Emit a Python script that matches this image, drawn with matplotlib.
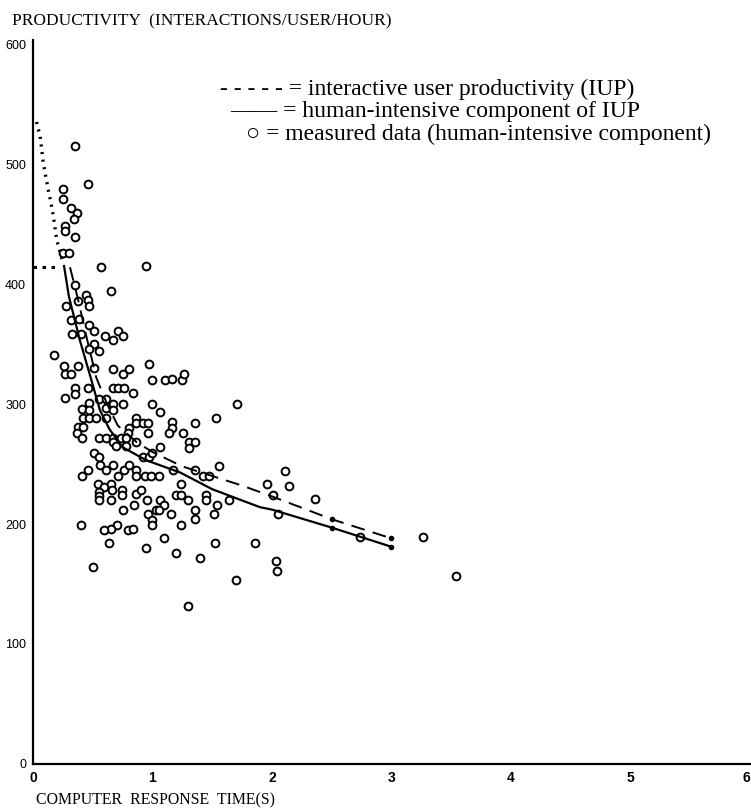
import matplotlib
matplotlib.use('Agg')
import matplotlib.pyplot as plt

meas_x = [0.351, 0.463, 0.254, 0.248, 0.315, 0.366, 0.346, 0.27, 0.27, 0.351,
          0.248, 0.304, 0.569, 0.946, 0.653, 0.351, 0.444, 0.458, 0.466, 0.276,
          0.374, 0.318, 0.388, 0.471, 0.326, 0.402, 0.513, 0.513, 0.555, 0.471,
          0.605, 0.667, 0.709, 0.75, 0.178, 0.257, 0.27, 0.318, 0.374, 0.513,
          0.667, 0.756, 0.806, 0.968, 1.0, 1.107, 1.161, 1.247, 1.261, 0.354,
          0.354, 0.458, 0.667, 0.709, 0.764, 0.834, 0.27, 0.41, 0.471, 0.555,
          0.611, 0.667, 0.75, 0.611, 0.667, 0.471, 1.0, 1.065, 0.416, 0.471,
          0.527, 0.611, 0.374, 0.416, 0.366, 0.407, 0.862, 0.862, 0.918, 0.96,
          1.163, 1.163, 1.358, 0.806, 0.792, 0.96, 1.141, 1.258, 1.53, 0.555,
          0.611, 0.667, 0.736, 0.778, 0.667, 0.695, 0.778, 0.862, 1.063, 1.308,
          1.308, 1.358, 0.513, 0.555, 0.923, 0.973, 1.0, 1.358, 1.425, 1.475,
          0.41, 0.463, 0.561, 0.611, 0.667, 0.709, 0.764, 0.806, 0.862, 0.862,
          0.94, 0.987, 1.057, 1.169, 0.541, 0.597, 0.653, 0.555, 0.661, 0.745,
          0.555, 0.745, 0.862, 0.904, 0.555, 0.653, 0.951, 1.063, 1.197, 1.238,
          1.238, 1.294, 1.448, 1.448, 0.75, 0.848, 1.099, 1.029, 1.057, 0.96,
          1.155, 1.358, 1.517, 1.0, 1.358, 0.402, 0.7, 0.653, 0.597, 0.792,
          0.84, 1.0, 1.238, 0.639, 1.099, 0.946, 1.197, 1.397, 1.526, 0.5,
          1.3, 1.705, 1.559, 1.64, 1.537, 1.86, 1.7, 2.03, 2.04, 1.96,
          2.11, 2.14, 2.006, 2.05, 2.36, 2.74, 3.26, 3.54]
meas_y = [515, 483, 479, 471, 463, 459, 454, 448, 444, 439,
          426, 426, 414, 415, 394, 399, 391, 387, 382, 382,
          386, 370, 371, 366, 358, 358, 361, 350, 344, 346,
          357, 353, 361, 357, 341, 332, 325, 325, 332, 330,
          329, 325, 329, 333, 320, 320, 321, 320, 325, 313,
          308, 313, 313, 313, 313, 309, 305, 296, 301, 304,
          304, 300, 300, 297, 295, 295, 300, 293, 288, 288,
          288, 288, 281, 281, 276, 272, 288, 284, 284, 284,
          285, 280, 284, 280, 276, 276, 276, 276, 288, 272,
          272, 272, 272, 272, 268, 265, 265, 268, 264, 268,
          263, 268, 259, 256, 256, 256, 259, 245, 240, 240,
          240, 245, 249, 245, 249, 240, 245, 249, 245, 240,
          240, 240, 240, 245, 233, 231, 233, 227, 228, 228,
          223, 224, 225, 228, 220, 220, 220, 220, 224, 224,
          233, 220, 224, 220, 212, 216, 216, 212, 212, 208,
          208, 212, 208, 203, 204, 199, 199, 196, 195, 195,
          196, 199, 199, 184, 188, 180, 176, 172, 184, 164,
          132, 300, 248, 220, 216, 184, 153, 169, 161, 233,
          244, 232, 224, 208, 221, 189, 189, 157]

# interactive user productivity (IUP), dashed
iup_x = [0.31, 0.38, 0.45, 0.53, 0.62, 0.71, 0.87, 1.0, 1.25, 1.5, 1.75, 2.0, 2.5, 3.0]
iup_y = [414, 386, 355, 322, 300, 282, 268, 260, 248, 240, 232, 223, 204, 188]

# dotted extension of IUP towards zero response time
iup_ext_x = [0.03, 0.06, 0.085, 0.106, 0.127, 0.148, 0.17, 0.184, 0.2, 0.226, 0.25]
iup_ext_y = [535, 523, 502, 490, 479, 469, 457, 447, 436, 427, 418]

# human-intensive component of IUP, solid
hic_x = [0.26, 0.3, 0.39, 0.48, 0.56, 0.64, 0.75, 0.95, 1.23, 1.5, 1.9, 2.0, 2.5, 3.0]
hic_y = [415, 390, 354, 323, 295, 279, 264, 253, 243, 229, 214, 212, 197, 181]

# flat dotted level at low response time
flat_x = [0.0, 0.22]
flat_y = [414, 414]

x_ticks = [0, 1, 2, 3, 4, 5, 6]
y_ticks = [0, 100, 200, 300, 400, 500, 600]

plt.rcParams['lines.scale_dashes'] = False
serif = ['Liberation Serif', 'DejaVu Serif']
num_font = ['Liberation Sans Narrow', 'Liberation Sans', 'DejaVu Sans']

fig = plt.figure(figsize=(7.51, 8.10), dpi=100)
ax = fig.add_axes([0.0439, 0.0568, 0.9547, 0.8933])

ax.plot(meas_x, meas_y, linestyle='none', marker='o', markersize=5.6,
        markerfacecolor='white', markeredgecolor='black', markeredgewidth=1.4, zorder=2)
ax.plot(iup_x, iup_y, color='black', linewidth=1.4, linestyle=(0, (10, 6)), zorder=3)
ax.plot(iup_x[-2:], iup_y[-2:], linestyle='none', marker='o', markersize=3,
        color='black', zorder=4)
ax.plot(hic_x, hic_y, color='black', linewidth=1.6, zorder=3)
ax.plot(hic_x[-2:], hic_y[-2:], linestyle='none', marker='o', markersize=3,
        color='black', zorder=4)
ax.plot(iup_ext_x, iup_ext_y, color='black', linewidth=2.4, linestyle=(0, (1.5, 4)), zorder=3)
ax.plot(flat_x, flat_y, color='black', linewidth=2.2, linestyle=(0, (2.5, 4)), zorder=3)

ax.set_xlim(0, 6)
ax.set_ylim(0, 603)
for s in ['top', 'right']:
    ax.spines[s].set_visible(False)
ax.spines['left'].set_linewidth(1.6)
ax.spines['bottom'].set_linewidth(1.6)

ax.set_xticks(x_ticks)
ax.set_yticks(y_ticks)
ax.set_xticklabels([str(v) for v in x_ticks], family=num_font, fontweight='bold', fontsize=10)
ax.set_yticklabels([str(v) for v in y_ticks], family=num_font, fontsize=9)
ax.get_xticklabels()[-1].set_ha('right')
ax.tick_params(axis='both', which='major', length=0, pad=5)
ax.set_xticks(x_ticks[1:-1], minor=True)
ax.set_yticks(y_ticks[1:-1], minor=True)
ax.tick_params(axis='x', which='minor', direction='in', length=17, width=1.6)
ax.tick_params(axis='y', which='minor', direction='in', length=12, width=1.6)

fig.text(0.016, 0.974, 'PRODUCTIVITY  (INTERACTIONS/USER/HOUR)', family=serif,
         fontsize=12.5, va='center', ha='left')
fig.text(0.048, 0.012, 'COMPUTER  RESPONSE  TIME(S)', family=serif,
         fontsize=11.4, va='center', ha='left')

# legend drawn as plain text lines like the original figure
fig.text(0.293, 0.883, '- - - - - = interactive user productivity (IUP)', family=serif,
         fontsize=17, va='baseline', ha='left')
fig.text(0.306, 0.855, '\u2014\u2014 = human-intensive component of IUP', family=serif,
         fontsize=17, va='baseline', ha='left')
fig.text(0.328, 0.827, '\u25cb = measured data (human-intensive component)', family=serif,
         fontsize=17, va='baseline', ha='left')

fig.savefig('out.png', dpi=100)
